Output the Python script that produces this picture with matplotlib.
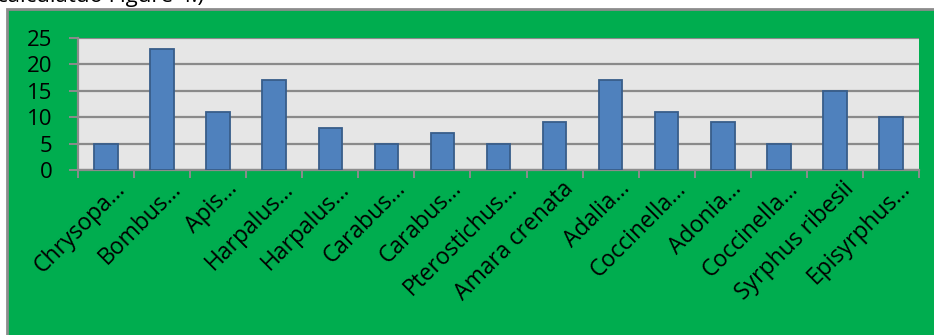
import matplotlib
matplotlib.use("Agg")
import matplotlib.pyplot as plt
from matplotlib.patches import Rectangle
import matplotlib.transforms as mtransforms

species = ["Chrysopa…", "Bombus…", "Apis…", "Harpalus…", "Harpalus…",
           "Carabus…", "Carabus…", "Pterostichus…", "Amara crenata",
           "Adalia…", "Coccinella…", "Adonia…", "Coccinella…",
           "Syrphus ribesii", "Episyrphus…"]
counts = [5, 23, 11, 17, 8, 5, 7, 5, 9, 17, 11, 9, 5, 15, 10]
y_ticks = [0, 5, 10, 15, 20, 25]

W, H = 934, 335
plt.rcParams["font.family"] = ["Open Sans", "DejaVu Sans"]
fig = plt.figure(figsize=(W / 100, H / 100), dpi=100, facecolor="white")

# green chart frame on a background axes
bg = fig.add_axes([0, 0, 1, 1], zorder=0)
bg.set_xlim(0, W)
bg.set_ylim(H, 0)
bg.axis("off")
bg.add_patch(Rectangle((7, 9), W, H, facecolor="#00AD4F",
                       edgecolor="#8C8C8C", linewidth=2.0))

# caption line clipped by the top edge
fig.text(-3 / W, 1 - 2 / H, "calculatuo Figure 4.)", fontsize=16,
         ha="left", va="baseline", color="black")

left, right, top, bottom = 78, 919, 38, 170
ax = fig.add_axes([left / W, 1 - bottom / H, (right - left) / W, (bottom - top) / H],
                  zorder=2)
ax.set_facecolor("#E6E6E6")

x = list(range(len(counts)))
ax.bar(x, counts, width=0.42, color="#4F81BD", edgecolor="#385D8A",
       linewidth=1.3, zorder=3)

ax.set_xlim(-0.5, len(counts) - 0.5)
ax.set_ylim(0, 25)
ax.set_yticks(y_ticks)
ax.set_yticklabels([str(v) for v in y_ticks], fontsize=16)
ax.yaxis.grid(True, color="#8A8A8A", linewidth=1.6, zorder=1)
ax.set_axisbelow(True)

for s in ["top", "right"]:
    ax.spines[s].set_visible(False)
ax.spines["left"].set_color("#8C8C8C")
ax.spines["left"].set_linewidth(1.6)
ax.spines["bottom"].set_color("#8C8C8C")
ax.spines["bottom"].set_linewidth(1.6)

ax.tick_params(axis="y", length=6.5, width=1.4, color="#8C8C8C", pad=12)

# category boundary ticks
ax.set_xticks([i - 0.5 for i in range(len(counts) + 1)], minor=True)
ax.tick_params(axis="x", which="minor", length=5.5, width=1.4, color="#8C8C8C")
ax.set_xticks(x)
ax.set_xticklabels(species, fontsize=16.5, rotation=45, ha="right",
                   va="top", rotation_mode="anchor")
ax.tick_params(axis="x", which="major", length=0, pad=5)
offset = mtransforms.ScaledTranslation(7 / 100, 0, fig.dpi_scale_trans)
for lbl in ax.get_xticklabels():
    lbl.set_transform(lbl.get_transform() + offset)

fig.savefig("out.png", dpi=100, facecolor="white")
